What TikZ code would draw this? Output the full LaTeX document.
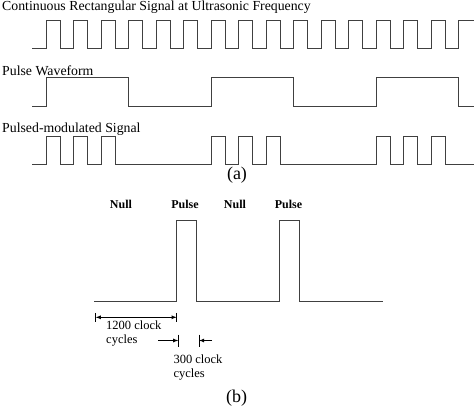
\documentclass[tikz,border=0pt]{standalone}
\usepackage{fontspec}
\setmainfont{Liberation Serif}
\usetikzlibrary{arrows,calc,positioning}

\begin{document}
\begin{tikzpicture}[x=1pt, y=-1pt,
wave/.style={line width=0.9pt, draw=black!75},
title/.style={anchor=base west, inner sep=0pt, font=\fontsize{13.8}{15}\selectfont},
state/.style={anchor=base, inner sep=0pt, font=\bfseries\fontsize{12}{13}\selectfont},
dim/.style={anchor=base west, inner sep=0pt, align=left, font=\fontsize{12.5}{14}\selectfont},
caption/.style={inner sep=0pt, font=\fontsize{18}{20}\selectfont},
tick/.style={line width=0.8pt, draw=black},
dimarrow/.style={line width=0.8pt, draw=black, -latex}
]
\useasboundingbox (0,0) rectangle (474,408);

%% (a)
\node[title] (carrier) at (2,10.5) {Continuous Rectangular Signal at Ultrasonic Frequency};
\node[title] (pulse) at (2,75) {Pulse Waveform};
\node[title] (modulated) at (2,132.5) {Pulsed-modulated Signal};

\draw[wave] (32,48) \foreach \k in {0,...,14} {
  -- ({46+27.5*\k},48) -- ({46+27.5*\k},20) -- ({60+27.5*\k},20) -- ({60+27.5*\k},48)}
  -- (458.5,48) -- (458.5,20) -- (474,20);

\draw[wave] (32,106.7) -- (46,106.7) -- (46,77.7) -- (128.5,77.7) -- (128.5,106.7)
  -- (211,106.7) -- (211,77.7) -- (293.5,77.7) -- (293.5,106.7)
  -- (376,106.7) -- (376,77.7) -- (458.5,77.7) -- (458.5,106.7) -- (474,106.7);

\draw[wave] (32,164.7) \foreach \s in {46,73.5,101,211,238.5,266,376,403.5,431} {
  -- (\s,164.7) -- (\s,136) -- ({\s+14},136) -- ({\s+14},164.7)}
  -- (474,164.7);

\node[caption] (capa) at (237,175) {(a)};

%% (b)
\node[state] (null1) at (121,208) {Null};
\node[state] (pulse1) at (185,208) {Pulse};
\node[state] (null2) at (235,208.5) {Null};
\node[state] (pulse2) at (288.5,208) {Pulse};

\draw[wave] (94,301.7) -- (176.7,301.7) -- (176.7,220) -- (196.7,220) -- (196.7,301.7)
  -- (279.3,301.7) -- (279.3,220) -- (299.3,220) -- (299.3,301.7) -- (382.7,301.7);

\coordinate (l1) at (95.7,317.3);
\coordinate (r1) at (176.7,317.3);
\draw[tick] ($(l1)+(0,-4.5)$) -- ($(l1)+(0,4.5)$);
\draw[tick] ($(r1)+(0,-4.5)$) -- ($(r1)+(0,4.5)$);
\draw[dimarrow, latex-latex] (l1) -- (r1);
\node[dim] (long) at (106,343) {1200 clock\\cycles};

\coordinate (l2) at (178.3,340.5);
\coordinate (r2) at (199,340.5);
\draw[tick] ($(l2)+(0,-6)$) -- ($(l2)+(0,6)$);
\draw[tick] ($(r2)+(0,-6)$) -- ($(r2)+(0,6)$);
\draw[dimarrow] ($(l2)+(-20,0)$) -- (l2);
\draw[dimarrow] ($(r2)+(13,0)$) -- (r2);
\node[dim] (short) at (173.3,377) {300 clock\\cycles};

\node[caption] (capb) at (236.7,398) {(b)};
\end{tikzpicture}
\end{document}
